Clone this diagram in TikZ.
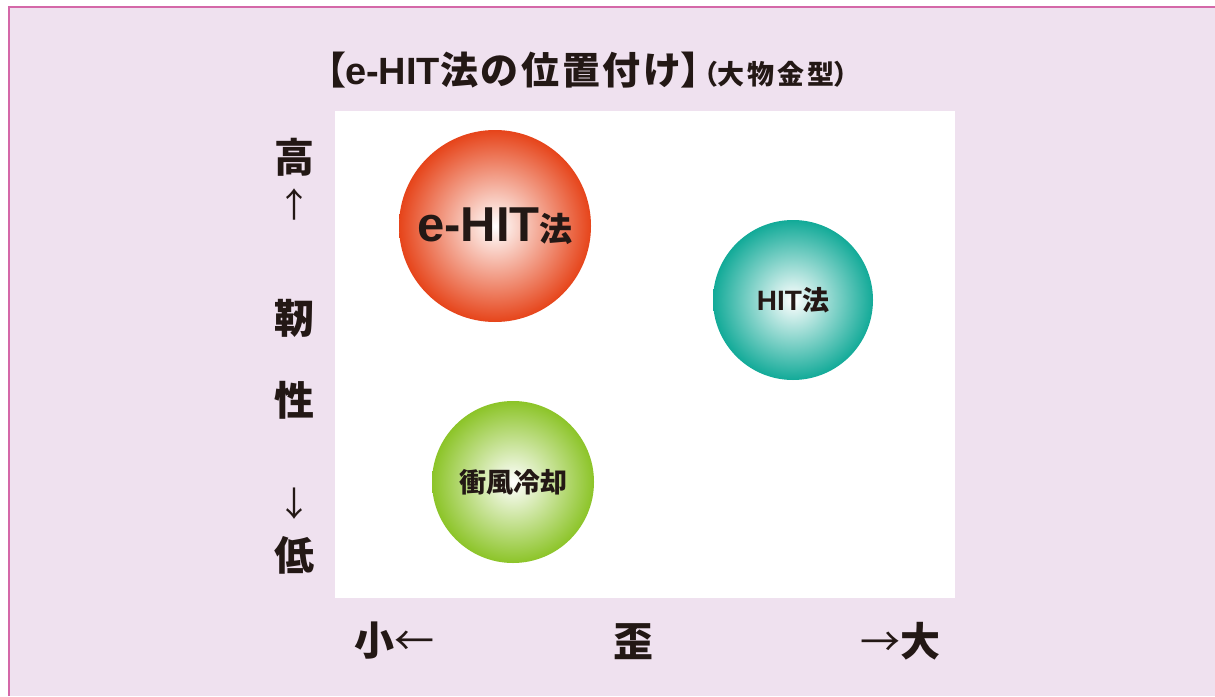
\documentclass[tikz,border=0pt]{standalone}
\usepackage{fontspec}
\newfontfamily\jpfont{Noto Sans CJK JP}
\newfontfamily\latfont{Liberation Sans}
\newcommand\pbr[1]{{\addfontfeatures{RawFeature=+palt}#1}}

\definecolor{bgpink}{RGB}{239,225,239}
\definecolor{framepink}{RGB}{212,104,168}
\definecolor{ink}{RGB}{35,24,21}
\definecolor{ehitred}{RGB}{230,68,26}
\definecolor{hitteal}{RGB}{18,170,152}
\definecolor{coolgreen}{RGB}{140,196,40}

\pgfdeclareradialshading{ballred}{\pgfpoint{0bp}{0bp}}{color(0bp)=(white); color(25bp)=(ehitred); color(100bp)=(ehitred)}
\pgfdeclareradialshading{ballteal}{\pgfpoint{0bp}{0bp}}{color(0bp)=(white); color(25bp)=(hitteal); color(100bp)=(hitteal)}
\pgfdeclareradialshading{ballgreen}{\pgfpoint{0bp}{0bp}}{color(0bp)=(white); color(25bp)=(coolgreen); color(100bp)=(coolgreen)}

\begin{document}
\begin{tikzpicture}[x=1pt,y=-1pt,
  lab/.style={font=\jpfont\bfseries\fontsize{40}{40}\selectfont, text=ink, inner sep=0pt},
  arr/.style={font=\jpfont\fontsize{34}{34}\selectfont, text=ink, inner sep=0pt},
  ball/.style={circle, shade, inner sep=0pt, minimum size=#1, text=ink}]
\useasboundingbox (0,0) rectangle (1215,696);
\fill[white] (0,0) rectangle (1215,696);
\fill[bgpink] (9,7) rectangle (1215,696);
\draw[framepink, line width=2.5pt] (9,696) -- (9,7) -- (1215,7);
\fill[white] (335,111) rectangle (955,598);

\node[text=ink, inner sep=0pt, anchor=west] (title) at (326,70)
  {\jpfont\bfseries\fontsize{38}{38}\selectfont\addfontfeatures{LetterSpace=7}%
   \pbr{【}{\latfont e-HIT}法の位置付け\pbr{】}\kern3pt%
   \fontsize{27}{27}\selectfont\addfontfeatures{LetterSpace=12}\pbr{（}大物金型\pbr{）}};

\node[ball=192, shading=ballred] (ehit) at (495,226)
  {\latfont\bfseries\fontsize{49}{49}\selectfont e-HIT\jpfont\fontsize{33}{33}\selectfont 法};
\node[ball=160, shading=ballteal] (hit) at (793,300)
  {\latfont\bfseries\fontsize{28}{28}\selectfont HIT\jpfont\fontsize{27}{27}\selectfont 法};
\node[ball=162, shading=ballgreen] (cool) at (513,482)
  {\jpfont\bfseries\fontsize{27}{27}\selectfont 衝風冷却};

\node[lab] (high) at (294,157) {高};
\node[arr] (up) at (294,204) {↑};
\node[lab] (tough) at (294,318) {靭};
\node[lab] (ness) at (294,400) {性};
\node[arr] (down) at (294,504) {↓};
\node[lab] (low) at (294,555) {低};

\node[lab, anchor=west] (small) at (354,641) {小\jpfont\mdseries ←};
\node[lab] (strain) at (633,642) {歪};
\node[lab, anchor=east] (large) at (941,641) {{\jpfont\mdseries →}大};
\end{tikzpicture}
\end{document}
